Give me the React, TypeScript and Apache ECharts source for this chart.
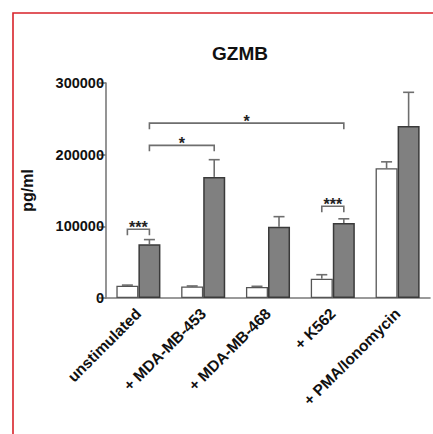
import React, { useEffect, useRef } from "react";
import * as echarts from "echarts";

const categories = ["unstimulated", "+ MDA-MB-453", "+ MDA-MB-468", "+ K562", "+ PMA/Ionomycin"];
const unstimMeans = [17000, 16000, 15500, 27000, 181000];
const unstimErr = [1000, 800, 800, 5500, 9000];
const stimMeans = [75000, 169000, 99500, 104500, 240000];
const stimErr = [6500, 24000, 14000, 6000, 47000];
const yTicks = [0, 100000, 200000, 300000];

// significance brackets: [fromCategory, fromSide(-1 white, +1 gray), toCategory, toSide, level]
const bracketRows = [
  [0, 1, 3, 1, 244000],
  [0, 1, 1, 1, 213000],
  [0, -1, 0, 1, 96000],
  [3, -1, 3, 1, 128000],
];
const bracketLabels = ["*", "*", "***", "***"];

const FONT = "'Liberation Sans', Arial, sans-serif";

export default function App() {
  const ref = useRef<HTMLDivElement>(null);
  useEffect(() => {
    if (!ref.current) return;
    const chart = echarts.init(ref.current, null, { renderer: "svg" });

    const errSeries = (means: number[], errs: number[], side: number) => ({
      type: "custom",
      z: 1,
      encode: { x: 0, y: 1 },
      data: means.map((v, i) => [i, v, errs[i]]),
      renderItem: (params: any, api: any) => {
        const band = api.size([1, 0])[0];
        const base = api.coord([api.value(0), api.value(1)]);
        const top = api.coord([api.value(0), api.value(1) + api.value(2)]);
        const x = base[0] + side * band * 0.17;
        const cap = 5.5;
        return {
          type: "group",
          children: [
            { type: "line", shape: { x1: x, y1: base[1], x2: x, y2: top[1] }, style: { stroke: "#6e6e6e", lineWidth: 1.6 } },
            { type: "line", shape: { x1: x - cap, y1: top[1], x2: x + cap, y2: top[1] }, style: { stroke: "#6e6e6e", lineWidth: 1.6 } },
          ],
        };
      },
    });

    chart.setOption({
      animation: false,
      title: {
        text: "GZMB",
        left: 207,
        top: 39,
        textStyle: { fontFamily: FONT, fontWeight: "bold", fontSize: 19, color: "#111" },
      },
      grid: { left: 106, right: 3, top: 83, bottom: 136, containLabel: false },
      xAxis: {
        type: "category",
        data: categories,
        axisLine: { lineStyle: { color: "#7a7a7a", width: 1.6 } },
        axisTick: { alignWithLabel: true, length: 7, lineStyle: { color: "#7a7a7a", width: 1.6 } },
        axisLabel: {
          rotate: 45,
          margin: 13,
          interval: 0,
          fontFamily: FONT,
          fontWeight: "bold",
          fontSize: 15.5,
          color: "#111",
        },
      },
      yAxis: {
        type: "value",
        min: 0,
        max: 300000,
        interval: 100000,
        name: "pg/ml",
        nameLocation: "middle",
        nameRotate: 90,
        nameGap: 71,
        nameTextStyle: { fontFamily: FONT, fontWeight: "bold", fontSize: 16, color: "#111" },
        axisLine: { show: true, lineStyle: { color: "#7a7a7a", width: 1.6 } },
        axisTick: { show: true, length: 7, lineStyle: { color: "#7a7a7a", width: 1.6 } },
        splitLine: { show: false },
        axisLabel: {
          margin: 2,
          fontFamily: FONT,
          fontWeight: "bold",
          fontSize: 14.5,
          color: "#111",
          formatter: (v: number) => (yTicks.includes(v) ? String(v) : ""),
        },
      },
      series: [
        {
          type: "bar",
          name: "unstimulated",
          data: unstimMeans,
          barWidth: "34%",
          barGap: "0%",
          z: 2,
          itemStyle: { color: "#ffffff", borderColor: "#555555", borderWidth: 1.3 },
        },
        {
          type: "bar",
          name: "stimulated",
          data: stimMeans,
          barWidth: "34%",
          barGap: "0%",
          z: 2,
          itemStyle: { color: "#808080", borderColor: "#3a3a3a", borderWidth: 1.5 },
        },
        errSeries(unstimMeans, unstimErr, -1),
        errSeries(stimMeans, stimErr, 1),
        {
          type: "custom",
          z: 3,
          encode: { x: 0, y: 4 },
          data: bracketRows,
          renderItem: (params: any, api: any) => {
            const band = api.size([1, 0])[0];
            const p1 = api.coord([api.value(0), api.value(4)]);
            const p2 = api.coord([api.value(2), api.value(4)]);
            const x1 = p1[0] + api.value(1) * band * 0.17;
            const x2 = p2[0] + api.value(3) * band * 0.17;
            const y = p1[1];
            return {
              type: "group",
              children: [
                {
                  type: "polyline",
                  shape: { points: [[x1, y + 6], [x1, y], [x2, y], [x2, y + 6]] },
                  style: { stroke: "#6e6e6e", lineWidth: 1.6, fill: null },
                },
                {
                  type: "text",
                  style: {
                    text: bracketLabels[params.dataIndex],
                    x: (x1 + x2) / 2,
                    y: y - 2,
                    align: "center",
                    verticalAlign: "middle",
                    font: `bold 16px ${FONT}`,
                    fill: "#222",
                  },
                },
              ],
            };
          },
        },
      ],
      graphic: [
        {
          type: "rect",
          shape: { x: 13, y: 13, width: 460, height: 460 },
          style: { fill: "none", stroke: "#d8222a", lineWidth: 1.6 },
          silent: true,
        },
      ],
    });
    return () => chart.dispose();
  }, []);
  return <div ref={ref} style={{ position: "absolute", left: 0, top: 0, width: 433, height: 434, background: "#fff" }} />;
}
